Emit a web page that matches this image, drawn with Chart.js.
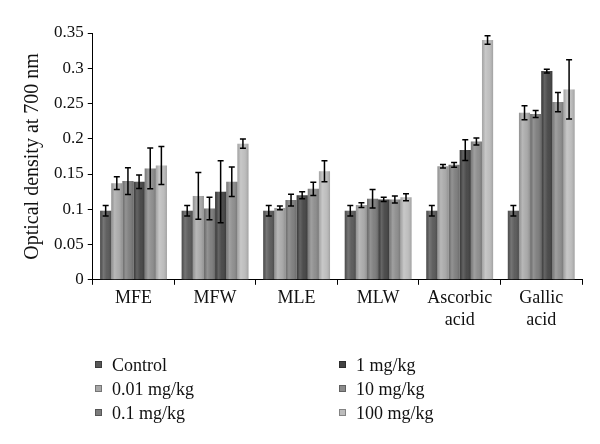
<!DOCTYPE html>
<html>
<head>
<meta charset="utf-8">
<script src="https://cdn.jsdelivr.net/npm/chart.js@4/dist/chart.umd.min.js"></script>
<style>
  body { margin: 0; background: #fff; }
  #box { position: relative; width: 600px; height: 444px; }
</style>
</head>
<body>
<div id="box"><canvas id="chart"></canvas></div>
<script>
const categories = ['MFE', 'MFW', 'MLE', 'MLW', ['Ascorbic', 'acid'], ['Gallic', 'acid']];
const seriesNames = ['Control', '0.01 mg/kg', '0.1 mg/kg', '1 mg/kg', '10 mg/kg', '100 mg/kg'];
const seriesColors = ['#575757', '#a8a8a8', '#7b7b7b', '#434343', '#8b8b8b', '#bcbcbc'];

const control  = [0.098, 0.098, 0.098, 0.098, 0.098, 0.098];
const dose001  = [0.137, 0.119, 0.102, 0.106, 0.161, 0.237];
const dose01   = [0.140, 0.101, 0.113, 0.115, 0.163, 0.235];
const dose1    = [0.139, 0.125, 0.120, 0.114, 0.184, 0.296];
const dose10   = [0.158, 0.139, 0.129, 0.114, 0.196, 0.252];
const dose100  = [0.162, 0.193, 0.154, 0.117, 0.340, 0.270];

const errControl = [0.0075, 0.0075, 0.0075, 0.0075, 0.0075, 0.0075];
const err001     = [0.009, 0.033, 0.0025, 0.0033, 0.0026, 0.010];
const err01      = [0.019, 0.016, 0.0085, 0.013, 0.0033, 0.005];
const err1       = [0.0095, 0.044, 0.005, 0.003, 0.0147, 0.0026];
const err10      = [0.029, 0.021, 0.0095, 0.005, 0.005, 0.0137];
const err100     = [0.027, 0.0066, 0.015, 0.005, 0.006, 0.042];

const yTicks = [0, 0.05, 0.1, 0.15, 0.2, 0.25, 0.3, 0.35];

const values = [control, dose001, dose01, dose1, dose10, dose100];
const errors = [errControl, err001, err01, err1, err10, err100];

const FONT = 'Liberation Serif';

const shadeAndErrors = {
  id: 'shadeAndErrors',
  afterDatasetsDraw(chart) {
    const ctx = chart.ctx;
    const y = chart.scales.y;
    chart.data.datasets.forEach((ds, di) => {
      chart.getDatasetMeta(di).data.forEach((bar, i) => {
        const p = bar.getProps(['x', 'y', 'base', 'width'], true);
        const l = p.x - p.width / 2;
        // cylindrical highlight
        const g = ctx.createLinearGradient(l, 0, l + p.width, 0);
        g.addColorStop(0, 'rgba(0,0,0,0.12)');
        g.addColorStop(0.3, 'rgba(255,255,255,0.18)');
        g.addColorStop(0.6, 'rgba(255,255,255,0.05)');
        g.addColorStop(1, 'rgba(0,0,0,0.15)');
        ctx.save();
        ctx.fillStyle = g;
        ctx.fillRect(l, p.y, p.width, p.base - p.y);
        ctx.restore();
      });
    });
    ctx.save();
    ctx.strokeStyle = '#000';
    ctx.lineWidth = 1.5;
    chart.data.datasets.forEach((ds, di) => {
      chart.getDatasetMeta(di).data.forEach((bar, i) => {
        const v = values[di][i], e = errors[di][i];
        const yTop = y.getPixelForValue(v + e), yBot = y.getPixelForValue(v - e);
        const x = bar.x;
        ctx.beginPath();
        ctx.moveTo(x, yTop); ctx.lineTo(x, yBot);
        ctx.moveTo(x - 3, yTop); ctx.lineTo(x + 3, yTop);
        ctx.moveTo(x - 3, yBot); ctx.lineTo(x + 3, yBot);
        ctx.stroke();
      });
    });
    ctx.restore();
  }
};

// two-column legend under the plot, drawn on the canvas
const legendPos = [[95, 365], [95, 389], [95, 413], [339, 365], [339, 389], [339, 413]];
const sideLegend = {
  id: 'sideLegend',
  afterDraw(chart) {
    const ctx = chart.ctx;
    ctx.save();
    ctx.font = Chart.helpers.toFont({ family: FONT, size: 18 }).string;
    ctx.textBaseline = 'middle';
    seriesNames.forEach((name, i) => {
      const [x, y] = legendPos[i];
      ctx.fillStyle = seriesColors[i];
      ctx.fillRect(x, y - 4, 7, 7);
      ctx.strokeStyle = 'rgba(0,0,0,0.3)';
      ctx.lineWidth = 1;
      ctx.strokeRect(x + 0.5, y - 3.5, 6, 6);
      ctx.fillStyle = '#111';
      ctx.fillText(name, x + 17, y + 1);
    });
    ctx.restore();
  }
};

new Chart(document.getElementById('chart'), {
  type: 'bar',
  data: {
    labels: categories,
    datasets: seriesNames.map((name, i) => ({
      label: name,
      data: values[i],
      backgroundColor: seriesColors[i],
      borderWidth: 0,
      categoryPercentage: 0.82,
      barPercentage: 1.0
    }))
  },
  options: {
    responsive: true,
    maintainAspectRatio: false,
    animation: false,
    layout: { padding: { left: 17, right: 18, top: 33, bottom: 110 } },
    plugins: { legend: { display: false }, tooltip: { enabled: false } },
    scales: {
      x: {
        grid: { display: true, drawOnChartArea: false, drawTicks: true, tickLength: 5, color: '#000', offset: true },
        border: { color: '#000', width: 1 },
        ticks: { color: '#111', font: { family: FONT, size: 18 }, padding: 3, maxRotation: 0, autoSkip: false }
      },
      y: {
        min: 0, max: 0.35,
        afterBuildTicks: axis => { axis.ticks = yTicks.map(v => ({ value: v })); },
        grid: { display: true, drawOnChartArea: false, drawTicks: true, tickLength: 5, color: '#000' },
        border: { color: '#000', width: 1 },
        ticks: { color: '#111', font: { family: FONT, size: 17 }, padding: 4, callback: v => String(+v.toFixed(2)) },
        title: { display: true, text: 'Optical density at 700 nm', color: '#111', font: { family: FONT, size: 20 }, padding: { bottom: 5 } }
      }
    }
  },
  plugins: [shadeAndErrors, sideLegend]
});
</script>
</body>
</html>
